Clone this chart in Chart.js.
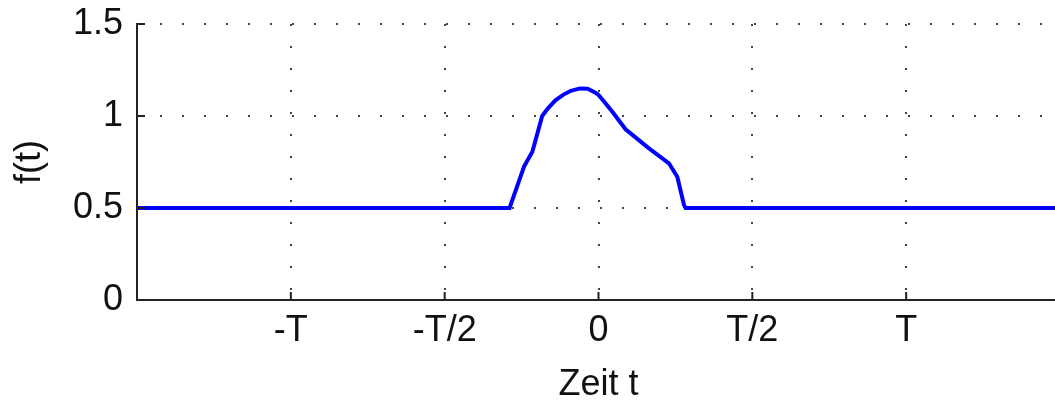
<!DOCTYPE html>
<html>
<head>
<meta charset="utf-8">
<script src="https://cdn.jsdelivr.net/npm/chart.js@4/dist/chart.umd.min.js"></script>
<style>
  html, body { margin: 0; padding: 0; background: #fff; overflow: hidden; }
  #wrap { width: 1060px; height: 400px; }
</style>
</head>
<body>
<div id="wrap"><canvas id="myChart" width="1060" height="400"></canvas></div>
<script>
// time in units of T, value of f(t)
const tValues = [-1.5, -0.289, -0.242, -0.215, -0.183, -0.165, -0.14, -0.115, -0.09, -0.06, -0.035, -0.01, 0.0, 0.02, 0.045, 0.088, 0.164, 0.229, 0.256, 0.278, 0.283, 1.5];
const fValues = [0.5, 0.5, 0.725, 0.806, 1.0, 1.04, 1.085, 1.115, 1.137, 1.15, 1.148, 1.127, 1.114, 1.075, 1.023, 0.928, 0.824, 0.743, 0.67, 0.516, 0.5, 0.5];

const xTicks = [-1, -0.5, 0, 0.5, 1];
const xTickLabels = ['-T', '-T/2', '0', 'T/2', 'T'];
const yTicks = [0, 0.5, 1, 1.5];
const yTickLabels = ['0', '0.5', '1', '1.5'];

const axisColor = '#222';

// small inward tick marks, like the original plot
const innerTicks = {
  id: 'innerTicks',
  afterDraw(chart) {
    const ctx = chart.ctx;
    const xs = chart.scales.x, ys = chart.scales.y;
    ctx.save();
    ctx.strokeStyle = axisColor;
    ctx.lineWidth = 2;
    ctx.beginPath();
    xs.ticks.forEach(t => {
      const px = xs.getPixelForValue(t.value);
      ctx.moveTo(px, ys.bottom);
      ctx.lineTo(px, ys.bottom - 8);
    });
    ys.ticks.forEach(t => {
      const py = ys.getPixelForValue(t.value);
      ctx.moveTo(xs.left, py);
      ctx.lineTo(xs.left + 8, py);
    });
    ctx.stroke();
    ctx.restore();
  }
};

window.onload = function() {
  const ctx = document.getElementById('myChart').getContext('2d');
  Chart.defaults.font.family = "'Liberation Sans', Arial, sans-serif";
  Chart.defaults.font.size = 36;
  Chart.defaults.color = '#111';

  const points = tValues.map((t, i) => ({x: t, y: fValues[i]}));

  new Chart(ctx, {
    type: 'scatter',
    data: {
      datasets: [{
        data: points,
        showLine: true,
        borderColor: '#0000ff',
        borderWidth: 4,
        pointRadius: 0,
        tension: 0,
        fill: false,
      }],
    },
    options: {
      responsive: false,
      animation: false,
      layout: { padding: { top: 24, right: 0, bottom: 0, left: 0 } },
      plugins: {
        legend: { display: false },
        tooltip: { enabled: false },
      },
      scales: {
        x: {
          type: 'linear',
          min: -1.5,
          max: 1.5,
          afterBuildTicks: (scale) => { scale.ticks = xTicks.map(v => ({value: v})); },
          afterFit: (scale) => {
            scale.height = 100;
            scale.paddingLeft = 0;
            scale.paddingRight = 0;
          },
          ticks: {
            padding: 9,
            maxRotation: 0,
            callback: (v) => xTickLabels[xTicks.indexOf(v)],
          },
          grid: {
            color: (c) => c.tick && c.tick.value === -1.5 ? 'rgba(0,0,0,0)' : '#444',
            lineWidth: 2,
            drawTicks: false,
          },
          border: { display: true, color: axisColor, width: 2, dash: [2, 20] },
          title: {
            display: true,
            text: 'Zeit t',
            font: { size: 36, lineHeight: 1 },
            padding: { top: 0, bottom: -3 },
          },
        },
        y: {
          min: 0,
          max: 1.5,
          afterBuildTicks: (scale) => { scale.ticks = yTicks.map(v => ({value: v})); },
          afterFit: (scale) => {
            scale.width = 137;
            scale.paddingTop = 0;
            scale.paddingBottom = 0;
          },
          ticks: {
            padding: 14,
            callback: (v) => yTickLabels[yTicks.indexOf(v)],
          },
          grid: {
            color: (c) => c.tick && c.tick.value === 0 ? 'rgba(0,0,0,0)' : '#444',
            lineWidth: 2,
            drawTicks: false,
          },
          border: { display: true, color: axisColor, width: 2, dash: [2, 20] },
          title: {
            display: true,
            text: 'f(t)',
            font: { size: 36, lineHeight: 1 },
            padding: { top: 12, bottom: 0 },
          },
        },
      },
    },
    plugins: [innerTicks],
  });
};
</script>
</body>
</html>
